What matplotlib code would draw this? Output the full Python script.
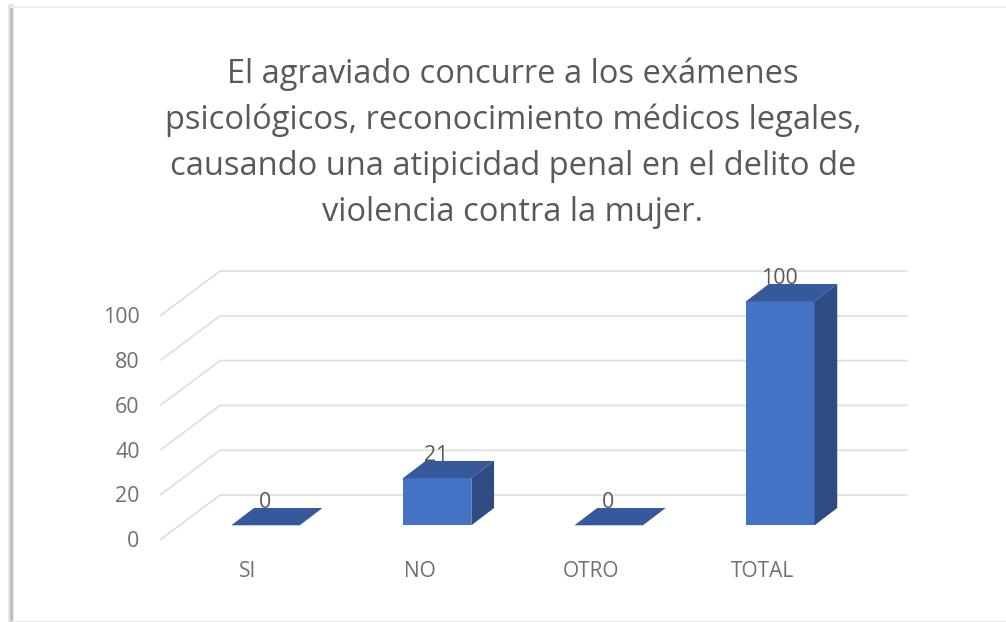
import matplotlib
matplotlib.use("Agg")
import matplotlib.pyplot as plt
from matplotlib.patches import Polygon

categories = ["SI", "NO", "OTRO", "TOTAL"]
values = [0, 21, 0, 100]
y_ticks = [0, 20, 40, 60, 80, 100]
title_lines = [
    "El agraviado concurre a los exámenes",
    "psicológicos, reconocimiento médicos legales,",
    "causando una atipicidad penal en el delito de",
    "violencia contra la mujer.",
]

W, H = 1006, 622
FONT = "Open Sans"
PX_X = 171.6      # pixels per category
PX_Y = 2.24       # pixels per value unit
X0, Y0 = 265.5, 525.3   # pixel position of category 0, value 0 on the bar plane

fig = plt.figure(figsize=(W / 100, H / 100), dpi=100, facecolor="white")
ax = fig.add_axes([0, 0, 1, 1])
ax.set_xlim((0 - X0) / PX_X, (W - X0) / PX_X)
ax.set_ylim((Y0 - H) / PX_Y, Y0 / PX_Y)
ax.axis("off")

# oblique depth, expressed in data units
DX = 1 / PX_X
DY = 1 / PX_Y
bar_w = 68.5 / PX_X
bar_dx, bar_dy = 22.7 * DX, 17.3 * DY
floor_front = (-104.5 * DX, -6.2)
floor_back = (-45.5 * DX, 13.5)
right_end = (906.7 - X0) * DX

# card frame with soft shadow
for lw, col, xpx in [(4.0, "#e4e4e4", 11.5), (2.4, "#cfcfcf", 11.5), (1.0, "#b4b4b4", 11.5)]:
    ax.plot([(xpx - X0) * DX] * 2, [(Y0 - 7) * DY, (Y0 - H) * DY], color=col, lw=lw, zorder=1)
ax.plot([(11 - X0) * DX, (W - X0) * DX], [(Y0 - 6.5) * DY] * 2, color="#efefef", lw=1.4, zorder=1)
ax.plot([(11 - X0) * DX, (W - X0) * DX], [(Y0 - 621) * DY] * 2, color="#ececec", lw=1.0, zorder=1)

# gridlines: side wall then back wall
for t in y_ticks:
    ax.plot([floor_front[0], floor_back[0], right_end],
            [floor_front[1] + t, floor_back[1] + t, floor_back[1] + t],
            color="#e0e0e0", lw=1.3, solid_joinstyle="miter", zorder=2)
    ax.text(floor_front[0] - 21.5 * DX, floor_front[1] + t, str(t), ha="right", va="center_baseline",
            family=FONT, fontsize=15.4, color="#707070", zorder=6)

# bars
ax.bar(range(len(values)), values, width=bar_w, bottom=0, color="#4472C4", zorder=4)
for i, v in enumerate(values):
    xl, xr = i - bar_w / 2, i + bar_w / 2
    ax.add_patch(Polygon([(xl, v), (xr, v), (xr + bar_dx, v + bar_dy), (xl + bar_dx, v + bar_dy)],
                         closed=True, fc="#36599B", ec="none", zorder=4))
    if v > 0:
        ax.add_patch(Polygon([(xr, 0), (xr, v), (xr + bar_dx, v + bar_dy), (xr + bar_dx, bar_dy)],
                             closed=True, fc="#2E4B84", ec="none", zorder=4))
    ax.text(i - 0.5 * DX, v + 11.1, str(v), ha="center", va="center_baseline",
            family=FONT, fontsize=15.4, color="#595959", zorder=6)
    ax.text(i - 17.5 * DX, -19.4, categories[i], ha="center", va="center_baseline",
            family=FONT, fontsize=15.0, color="#707070", zorder=6)

# title
for k, line in enumerate(title_lines):
    ax.text((513 - X0) * DX, (Y0 - (74.5 + 46 * k)) * DY, line, ha="center", va="center",
            family=FONT, fontsize=23.5, color="#595959", zorder=6)

fig.savefig("out.png", dpi=100, facecolor="white")
